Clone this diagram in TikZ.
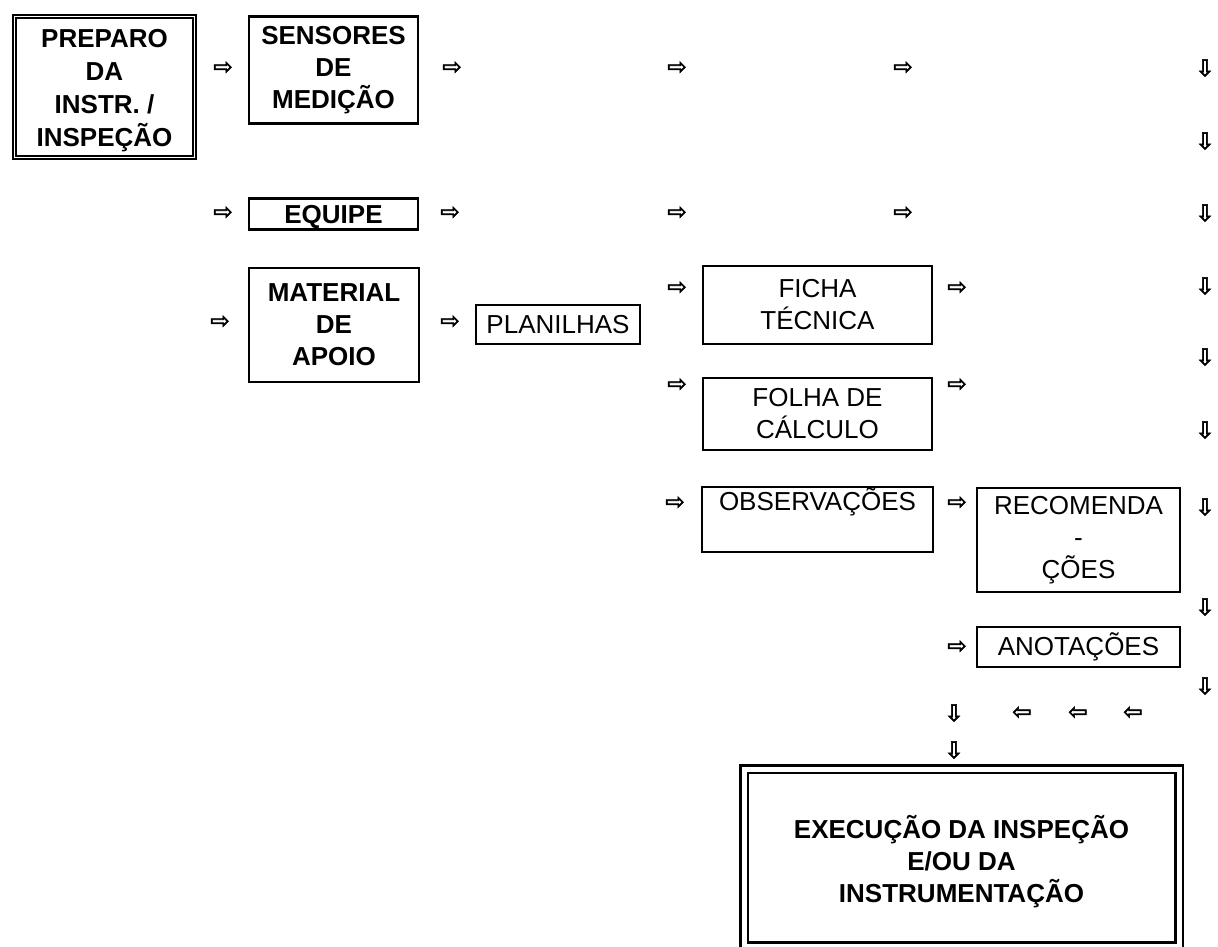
\documentclass[tikz,border=0pt]{standalone}
\usepackage{fontspec}
\setmainfont{Liberation Sans}
\newfontfamily\arrowfont[FakeBold=2.5]{DejaVu Sans}
\begin{document}
\begin{tikzpicture}[x=1pt,y=-1pt,
  box/.style={draw, line width=2.6pt, align=center, inner sep=0pt, font=\fontsize{26}{32}\selectfont},
  bbox/.style={box, font=\fontsize{26}{32}\selectfont\bfseries},
  dbox/.style={bbox, font=\fontsize{26}{33}\selectfont\bfseries, double, line width=1.8pt, double distance=1.8pt},
  ebox/.style={bbox, double, line width=2.6pt, double distance=5pt},
  arr/.style={font=\arrowfont\fontsize{23}{23}\selectfont, inner sep=0pt},
]
\useasboundingbox (0,0) rectangle (1218,946);

% boxes
\node[dbox, minimum width=180pt, minimum height=141pt] (prep) at (104.5,87) {\mbox{}\\[-8pt]PREPARO\\DA\\INSTR. /\\INSPEÇÃO};
\node[bbox, minimum width=169pt, minimum height=107pt] (sens) at (333.5,70) {SENSORES\\DE\\MEDIÇÃO};
\node[bbox, minimum width=169pt, minimum height=31pt, text depth=0pt] (equi) at (333.5,214) {EQUIPE};
\node[bbox, minimum width=170pt, minimum height=114pt] (mat) at (334,325) {MATERIAL\\DE\\APOIO};
\node[box, minimum width=164pt, minimum height=39pt] (plan) at (558,324.5) {PLANILHAS};
\node[box, minimum width=229pt, minimum height=78pt] (ficha) at (817.5,305) {FICHA\\TÉCNICA};
\node[box, minimum width=229pt, minimum height=72pt] (folha) at (817.5,414) {FOLHA DE\\CÁLCULO};
\node[box, minimum width=231pt, minimum height=65pt] (obs) at (817.5,519.5) {OBSERVAÇÕES\\\strut};
\node[box, minimum width=203pt, minimum height=104pt] (rec) at (1078.5,540) {RECOMENDA\\-\\ÇÕES};
\node[box, minimum width=203pt, minimum height=40pt] (ano) at (1078.5,647) {ANOTAÇÕES};
\node[ebox, minimum width=435pt, minimum height=177pt] (exec) at (961.5,857.5) {\mbox{}\\EXECUÇÃO DA INSPEÇÃO\\E/OU DA\\INSTRUMENTAÇÃO};

% right arrows
\foreach \n/\x/\y in {a1/223/68, a2/452/68, a3/677/68, a4/903/68,
                      b1/223/213, b2/450/213, b3/677/213, b4/903/213,
                      c1/220/322, c2/450/322, c3/677/288, c4/957/288,
                      d1/677/385, d2/957/385,
                      e1/675/503, e2/957/503,
                      f1/957/647}
  \node[arr] (\n) at (\x,\y) {⇨};

% down arrows, right column
\foreach \n/\y in {r1/68, r2/141, r3/213, r4/286, r5/357, r6/430, r7/507, r8/607, r9/686}
  \node[arr] (\n) at (1205,\y) {⇩};

% bottom row
\node[arr] (g1) at (954,713) {⇩};
\node[arr] (g2) at (1022,713) {⇦};
\node[arr] (g3) at (1078,713) {⇦};
\node[arr] (g4) at (1133,713) {⇦};
\node[arr] (g5) at (954,750) {⇩};
\end{tikzpicture}
\end{document}
